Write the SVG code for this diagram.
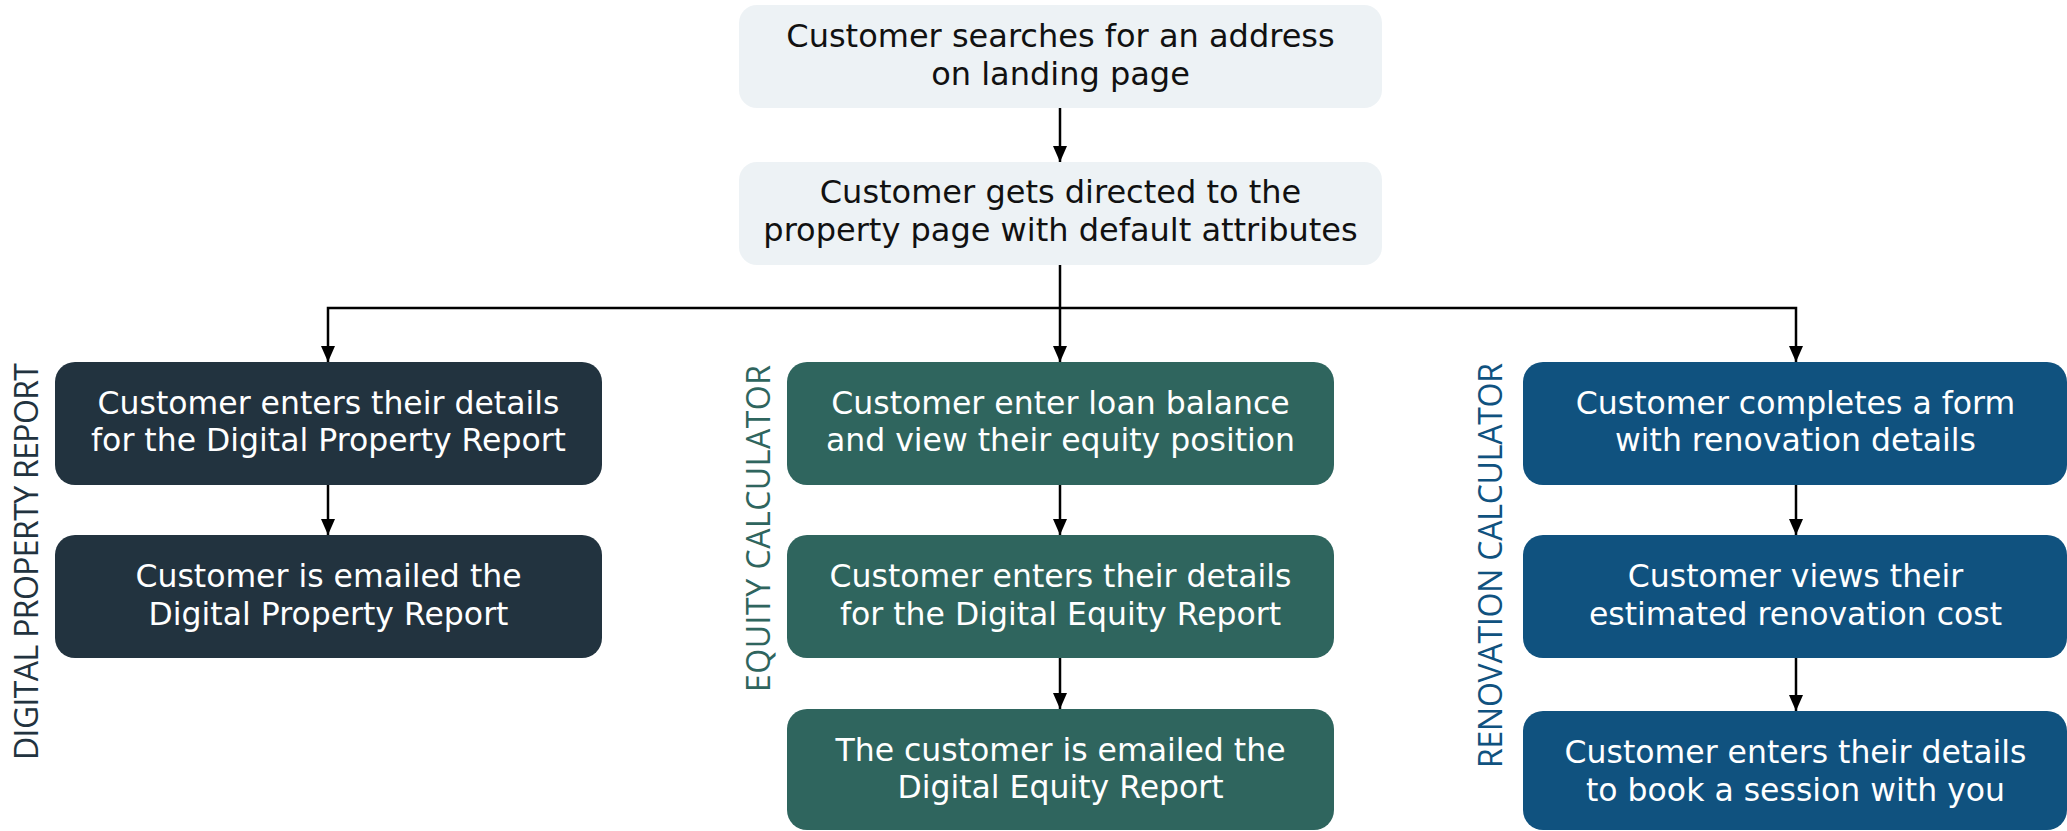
<svg xmlns="http://www.w3.org/2000/svg" width="2067" height="831" viewBox="0 0 2067 831">
  <style>
    .box-top { fill: #edf2f5; }
    .box-dark { fill: #22333f; }
    .box-green { fill: #2f655e; }
    .box-blue { fill: #10527f; }
    .txt { font-family: "DejaVu Sans", "Open Sans", sans-serif; font-size: 31.5px; text-anchor: middle; }
    .txt-top { font-size: 32px; }
    .txt-dark { fill: #111111; }
    .txt-light { fill: #ffffff; }
    .lane { font-family: "Open Sans", "DejaVu Sans", sans-serif; font-size: 32px; text-anchor: end; }
    .conn { fill: none; stroke: #000000; stroke-width: 2.5; }
  </style>
  <defs>
    <marker id="arrow" viewBox="0 0 16 14" refX="16" refY="7" markerWidth="16" markerHeight="14" markerUnits="userSpaceOnUse" orient="auto">
      <path d="M0,0 L16,7 L0,14 Z" fill="#000000"/>
    </marker>
  </defs>

  <rect width="2067" height="831" fill="#ffffff"/>

  <!-- lane labels -->
  <g id="lane-property">
    <text class="lane" fill="#22333f" transform="translate(38,363) rotate(-90)" textLength="397" lengthAdjust="spacing">DIGITAL PROPERTY REPORT</text>
  </g>
  <g id="lane-equity">
    <text class="lane" fill="#2f655e" transform="translate(770,365) rotate(-90)" textLength="327" lengthAdjust="spacing">EQUITY CALCULATOR</text>
  </g>
  <g id="lane-renovation">
    <text class="lane" fill="#10527f" transform="translate(1502,363) rotate(-90)" textLength="405" lengthAdjust="spacing">RENOVATION CALCULATOR</text>
  </g>

  <!-- connectors -->
  <g id="connectors">
    <line class="conn" x1="1060" y1="108" x2="1060" y2="162" marker-end="url(#arrow)"/>
    <line class="conn" x1="1060" y1="265" x2="1060" y2="362" marker-end="url(#arrow)"/>
    <polyline class="conn" points="1060,308 328,308 328,362" marker-end="url(#arrow)"/>
    <polyline class="conn" points="1060,308 1796,308 1796,362" marker-end="url(#arrow)"/>
    <line class="conn" x1="328" y1="485" x2="328" y2="535" marker-end="url(#arrow)"/>
    <line class="conn" x1="1060" y1="485" x2="1060" y2="535" marker-end="url(#arrow)"/>
    <line class="conn" x1="1060" y1="658" x2="1060" y2="709" marker-end="url(#arrow)"/>
    <line class="conn" x1="1796" y1="485" x2="1796" y2="535" marker-end="url(#arrow)"/>
    <line class="conn" x1="1796" y1="658" x2="1796" y2="711" marker-end="url(#arrow)"/>
  </g>

  <!-- entry steps -->
  <g id="search-address">
    <rect class="box-top" x="739" y="5" width="643" height="103" rx="18"/>
    <text class="txt txt-top txt-dark" x="1060.5" y="47">Customer searches for an address</text>
    <text class="txt txt-top txt-dark" x="1060.5" y="85">on landing page</text>
  </g>
  <g id="property-page">
    <rect class="box-top" x="739" y="162" width="643" height="103" rx="18"/>
    <text class="txt txt-top txt-dark" x="1060.5" y="203">Customer gets directed to the</text>
    <text class="txt txt-top txt-dark" x="1060.5" y="241">property page with default attributes</text>
  </g>

  <!-- Digital Property Report -->
  <g id="dpr-details">
    <rect class="box-dark" x="55" y="362" width="547" height="123" rx="20"/>
    <text class="txt txt-light" x="328.5" y="414">Customer enters their details</text>
    <text class="txt txt-light" x="328.5" y="451">for the Digital Property Report</text>
  </g>
  <g id="dpr-emailed">
    <rect class="box-dark" x="55" y="535" width="547" height="123" rx="20"/>
    <text class="txt txt-light" x="328.5" y="587">Customer is emailed the</text>
    <text class="txt txt-light" x="328.5" y="625">Digital Property Report</text>
  </g>

  <!-- Equity Calculator -->
  <g id="eq-balance">
    <rect class="box-green" x="787" y="362" width="547" height="123" rx="20"/>
    <text class="txt txt-light" x="1060.5" y="414">Customer enter loan balance</text>
    <text class="txt txt-light" x="1060.5" y="451">and view their equity position</text>
  </g>
  <g id="eq-details">
    <rect class="box-green" x="787" y="535" width="547" height="123" rx="20"/>
    <text class="txt txt-light" x="1060.5" y="587">Customer enters their details</text>
    <text class="txt txt-light" x="1060.5" y="625">for the Digital Equity Report</text>
  </g>
  <g id="eq-emailed">
    <rect class="box-green" x="787" y="709" width="547" height="121" rx="20"/>
    <text class="txt txt-light" x="1060.5" y="761">The customer is emailed the</text>
    <text class="txt txt-light" x="1060.5" y="798">Digital Equity Report</text>
  </g>

  <!-- Renovation Calculator -->
  <g id="reno-form">
    <rect class="box-blue" x="1523" y="362" width="544" height="123" rx="20"/>
    <text class="txt txt-light" x="1795.5" y="414">Customer completes a form</text>
    <text class="txt txt-light" x="1795.5" y="451">with renovation details</text>
  </g>
  <g id="reno-cost">
    <rect class="box-blue" x="1523" y="535" width="544" height="123" rx="20"/>
    <text class="txt txt-light" x="1795.5" y="587">Customer views their</text>
    <text class="txt txt-light" x="1795.5" y="625">estimated renovation cost</text>
  </g>
  <g id="reno-session">
    <rect class="box-blue" x="1523" y="711" width="544" height="119" rx="20"/>
    <text class="txt txt-light" x="1795.5" y="763">Customer enters their details</text>
    <text class="txt txt-light" x="1795.5" y="801">to book a session with you</text>
  </g>
</svg>
